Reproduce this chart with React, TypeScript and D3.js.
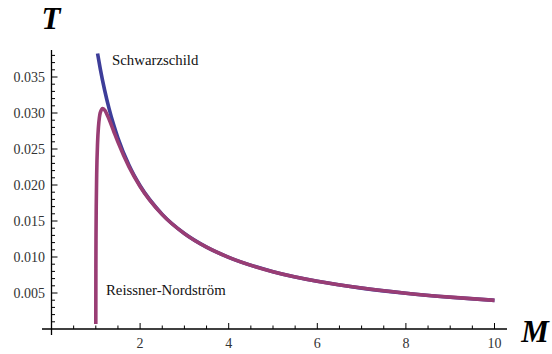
import React from "react";
import * as d3 from "d3";

const schwM = [1.04, 1.1, 1.2, 1.3, 1.4, 1.5, 1.75, 2, 2.5, 3, 3.5, 4, 5, 6, 7, 8, 9, 10];
const schwT = [0.03826, 0.03617, 0.03316, 0.03061, 0.02842, 0.02653, 0.02274, 0.01989, 0.01592, 0.01326, 0.01137, 0.00995, 0.00796, 0.00663, 0.00568, 0.00497, 0.00442, 0.00398];

const rnM = [1.00001, 1.002, 1.005, 1.01, 1.02, 1.04, 1.06, 1.08, 1.1, 1.1547, 1.2, 1.3, 1.4, 1.5, 1.75, 2, 2.5, 3, 3.5, 4, 5, 6, 7, 8, 9, 10];
const rnT = [0.0007, 0.008875, 0.013048, 0.017009, 0.021458, 0.025871, 0.028082, 0.029325, 0.030036, 0.030629, 0.030407, 0.029122, 0.027535, 0.025961, 0.022516, 0.019792, 0.015885, 0.013251, 0.011363, 0.009945, 0.007957, 0.006631, 0.005684, 0.004974, 0.004421, 0.003979];

const xMajor = [2, 4, 6, 8, 10];
const xMinor = [0.5, 1, 1.5, 2.5, 3, 3.5, 4.5, 5, 5.5, 6.5, 7, 7.5, 8.5, 9, 9.5];
const yMajor = [0.005, 0.01, 0.015, 0.02, 0.025, 0.03, 0.035];
const yMinorStep = 0.001;
const yLabels = ["0.005", "0.010", "0.015", "0.020", "0.025", "0.030", "0.035"];

const SERIF = "'Liberation Serif', 'Times New Roman', 'DejaVu Serif', serif";

export default function App() {
  const W = 552, H = 354;
  const x = d3.scaleLinear().domain([0, 10]).range([51.5, 494.5]);
  const y = d3.scaleLinear().domain([0, 0.035]).range([329, 77]);
  const line = d3.line<[number, number]>().x(d => x(d[0])).y(d => y(d[1])).curve(d3.curveMonotoneX);
  const schw: [number, number][] = schwM.map((m, i) => [m, schwT[i]]);
  const rn: [number, number][] = rnM.map((m, i) => [m, rnT[i]]);
  const yMinor: number[] = [];
  for (let i = 1; i <= 38; i++) {
    const v = i * yMinorStep;
    if (i % 5 !== 0) yMinor.push(v);
  }
  const x0 = x(0), y0 = y(0);
  const lblColor = "#333";
  return (
    <svg width={W} height={H} style={{ position: "absolute", left: 0, top: 0, background: "#fff" }}>
      <rect width={W} height={H} fill="#fff" />
      <line x1={42} x2={507} y1={y0} y2={y0} stroke="#000" strokeWidth={1.3} />
      <line x1={x0} x2={x0} y1={50} y2={335} stroke="#000" strokeWidth={1.3} />
      {xMajor.map(v => (
        <g key={"xm" + v}>
          <line x1={x(v)} x2={x(v)} y1={y0} y2={y0 - 6} stroke="#000" strokeWidth={1} />
          <text x={x(v)} y={348} textAnchor="middle" style={{ fontFamily: SERIF }} fontSize={14} fill={lblColor}>{v}</text>
        </g>
      ))}
      {xMinor.map(v => (
        <line key={"xn" + v} x1={x(v)} x2={x(v)} y1={y0} y2={y0 - 3.5} stroke="#000" strokeWidth={1} />
      ))}
      {yMajor.map((v, i) => (
        <g key={"ym" + v}>
          <line x1={x0} x2={x0 + 6} y1={y(v)} y2={y(v)} stroke="#000" strokeWidth={1} />
          <text x={45} y={y(v) + 4.5} textAnchor="end" style={{ fontFamily: SERIF }} fontSize={14} fill={lblColor}>{yLabels[i]}</text>
        </g>
      ))}
      {yMinor.map(v => (
        <line key={"yn" + v} x1={x0} x2={x0 + 3.5} y1={y(v)} y2={y(v)} stroke="#000" strokeWidth={1} />
      ))}
      <path d={line(schw) || ""} fill="none" stroke="#3d3d99" strokeWidth={3.6} />
      <path d={line(rn) || ""} fill="none" stroke="#993d74" strokeWidth={3.6} />
      <text x={112} y={65} style={{ fontFamily: SERIF }} fontSize={14.8} fill="#111">Schwarzschild</text>
      <text x={106} y={295} style={{ fontFamily: SERIF }} fontSize={14.8} fill="#111">Reissner-Nordström</text>
      <text x={51} y={29} textAnchor="middle" style={{ fontFamily: SERIF }} fontWeight="bold" fontStyle="italic" fontSize={31}>T</text>
      <text x={535} y={342} textAnchor="middle" style={{ fontFamily: SERIF }} fontWeight="bold" fontStyle="italic" fontSize={31}>M</text>
    </svg>
  );
}
